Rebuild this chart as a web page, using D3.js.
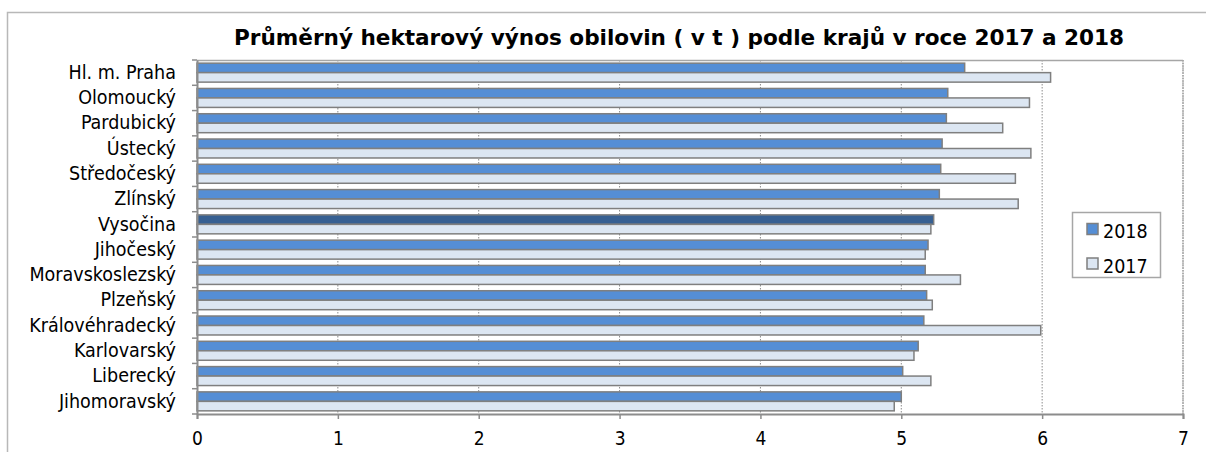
<!DOCTYPE html>
<html><head><meta charset="utf-8">
<script src="https://cdn.jsdelivr.net/npm/d3@7"></script>
<style>
html,body{margin:0;padding:0;background:#fff;}
svg{display:block;}
text{font-family:"DejaVu Sans Condensed","DejaVu Sans",sans-serif;font-stretch:condensed;}
</style></head>
<body>
<svg id="chart" width="1206" height="452"></svg>
<script>
const title = "Průměrný hektarový výnos obilovin ( v t ) podle krajů v roce 2017 a 2018";
const categories = ["Hl. m. Praha","Olomoucký","Pardubický","Ústecký","Středočeský","Zlínský","Vysočina","Jihočeský","Moravskoslezský","Plzeňský","Královéhradecký","Karlovarský","Liberecký","Jihomoravský"];
const values2018 = [5.45,5.33,5.32,5.29,5.28,5.27,5.23,5.19,5.17,5.18,5.16,5.12,5.01,5.00];
const values2017 = [6.06,5.91,5.72,5.92,5.81,5.83,5.21,5.17,5.42,5.22,5.99,5.09,5.21,4.95];
const seriesNames = ["2018","2017"];
const xTicks = [0,1,2,3,4,5,6,7];
const highlight = "Vysočina";

const col2018 = "#558ed5", col2018hi = "#376092", col2017 = "#dce6f2", stroke = "#7f7f7f";
const FONT = "DejaVu Sans Condensed, DejaVu Sans, sans-serif";

const svg = d3.select("#chart");
const m = {left:197, right:1183, top:60, bottom:414};

// outer frame
svg.append("path").attr("d","M7.5,452 L7.5,12.5 L1206,12.5").attr("fill","none").attr("stroke","#b8b8b8").attr("stroke-width",1.5);

svg.append("text").attr("x",679).attr("y",45).attr("text-anchor","middle")
  .attr("font-size",21).attr("font-weight","bold").attr("fill","#000")
  .attr("textLength",890).attr("lengthAdjust","spacingAndGlyphs").text(title);

const x = d3.scaleLinear().domain([0,7]).range([m.left,m.right]);
const y = d3.scaleBand().domain(categories).range([m.top,m.bottom]).paddingInner(0.25).paddingOuter(0.125);
const yb = d3.scaleBand().domain(seriesNames).range([0,y.bandwidth()]);

// gridlines
svg.append("g").selectAll("line").data(xTicks.filter(t=>t>0)).join("line")
  .attr("x1",d=>x(d)).attr("x2",d=>x(d)).attr("y1",m.top).attr("y2",m.bottom)
  .attr("stroke","#8c8c8c").attr("stroke-width",1).attr("stroke-dasharray","1.5,1.5");
// plot top/right border
svg.append("line").attr("x1",m.left).attr("x2",m.right).attr("y1",m.top+0.5).attr("y2",m.top+0.5).attr("stroke","#a6a6a6").attr("stroke-width",1.5);
svg.append("line").attr("x1",m.right).attr("x2",m.right).attr("y1",m.top).attr("y2",m.bottom).attr("stroke","#a6a6a6").attr("stroke-width",1.5).attr("stroke-dasharray","1.5,1");

const rows = categories.map((c,i)=>({c, v18:values2018[i], v17:values2017[i]}));
const g = svg.append("g");
g.selectAll("rect.b18").data(rows).join("rect").attr("class","b18")
  .attr("x",x(0)).attr("y",d=>y(d.c)+yb("2018")).attr("width",d=>x(d.v18)-x(0)).attr("height",yb.bandwidth())
  .attr("fill",d=>d.c===highlight?col2018hi:col2018).attr("stroke",stroke).attr("stroke-width",1.5);
g.selectAll("rect.b17").data(rows).join("rect").attr("class","b17")
  .attr("x",x(0)).attr("y",d=>y(d.c)+yb("2017")).attr("width",d=>x(d.v17)-x(0)).attr("height",yb.bandwidth())
  .attr("fill",col2017).attr("stroke",stroke).attr("stroke-width",1.5);

// x axis
const xa = svg.append("g").attr("transform",`translate(0,${m.bottom})`)
  .call(d3.axisBottom(x).tickValues(xTicks).tickFormat(d3.format("d")).tickSize(5).tickPadding(13));
xa.select(".domain").attr("stroke","#8c8c8c").attr("stroke-width",2);
xa.selectAll(".tick line").attr("stroke","#8c8c8c").attr("stroke-width",1.5);
xa.selectAll("text").attr("font-size",19).attr("fill","#000").attr("font-family",FONT);

// y axis with ticks at category boundaries
const ya = svg.append("g").attr("transform",`translate(${m.left},0)`)
  .call(d3.axisLeft(y).tickSize(0).tickPadding(21));
ya.select(".domain").attr("stroke","#8c8c8c").attr("stroke-width",2);
ya.selectAll("text").attr("font-size",19.5).attr("fill","#000").attr("font-family",FONT);
const bounds = d3.range(categories.length+1).map(i=>m.top + i*(m.bottom-m.top)/categories.length);
svg.append("g").selectAll("line").data(bounds).join("line")
  .attr("x1",m.left-5).attr("x2",m.left).attr("y1",d=>d).attr("y2",d=>d)
  .attr("stroke","#8c8c8c").attr("stroke-width",1.5);

// legend
const lg = svg.append("g");
lg.append("rect").attr("x",1072.5).attr("y",212.5).attr("width",88).attr("height",65).attr("fill","#fff").attr("stroke","#a6a6a6").attr("stroke-width",1.5);
const legendItems = [{n:seriesNames[0],c:col2018},{n:seriesNames[1],c:col2017}];
legendItems.forEach((d,i)=>{
  const yy = 223.5 + i*34.5;
  lg.append("rect").attr("x",1087).attr("y",yy).attr("width",11).attr("height",11).attr("fill",d.c).attr("stroke",stroke).attr("stroke-width",1.5);
  lg.append("text").attr("x",1103).attr("y",yy+14.5).attr("font-size",19.5).attr("fill","#000").text(d.n);
});
</script>
</body></html>
